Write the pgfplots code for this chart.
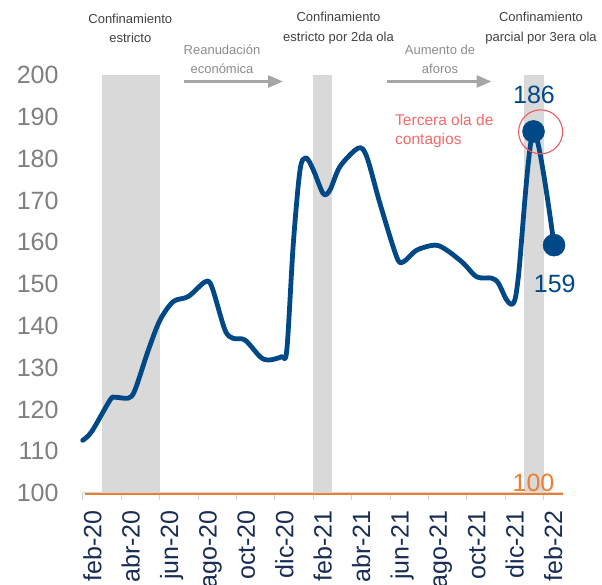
\documentclass[border=0pt]{standalone}
\usepackage{fontspec}
\setmainfont{Liberation Sans}
\usepackage{pgfplots}
\pgfplotsset{compat=1.18}
\usetikzlibrary{arrows.meta}
\definecolor{mainblue}{RGB}{0,72,134}
\definecolor{navy}{RGB}{24,44,84}
\definecolor{bandgray}{RGB}{217,217,217}
\definecolor{axgray}{RGB}{210,210,210}
\definecolor{ticktext}{RGB}{127,127,127}
\definecolor{darktext}{RGB}{64,64,64}
\definecolor{lighttext}{RGB}{140,140,140}
\definecolor{arrowgray}{RGB}{166,166,166}
\definecolor{orangeline}{RGB}{237,125,49}
\definecolor{redtext}{RGB}{242,107,107}
\definecolor{redcirc}{RGB}{238,90,90}
\begin{document}
\begin{tikzpicture}
\path[use as bounding box] (-82.7pt,-92pt) rectangle (519.3pt,493pt);
\begin{axis}[
  at={(0pt,0pt)}, anchor=south west,
  scale only axis, width=480pt, height=418pt,
  xmin=0, xmax=25, ymin=100, ymax=200,
  clip=false,
  axis x line*=bottom, axis y line*=left,
  y axis line style={draw=none},
  x axis line style={draw=axgray, line width=1pt},
  /pgf/number format/assume math mode=true,
  major tick length=0pt,
  ytick={100,110,...,200},
  yticklabel style={anchor=east, inner sep=0pt, text=ticktext, font=\fontsize{25}{30}\selectfont},
  yticklabel shift=24pt,
  xtick={0.5,2.5,...,24.5},
  xticklabels={feb-20,abr-20,jun-20,ago-20,oct-20,dic-20,feb-21,abr-21,jun-21,ago-21,oct-21,dic-21,feb-22},
  xticklabel style={rotate=90, anchor=east, inner sep=0pt, text height=18pt, text depth=0pt, text=navy, font=\fontsize{25}{30}\selectfont},
  xticklabel shift=17pt,
  extra x ticks={0,2,...,24},
  extra x tick labels={},
  extra x tick style={major tick length=7pt, tick align=outside, tick style={draw=axgray, line width=0.8pt}},
]
\addplot[fill=bandgray, draw=none] coordinates {(1,100) (1,200) (4,200) (4,100)} -- cycle;
\addplot[fill=bandgray, draw=none] coordinates {(12,100) (12,200) (13,200) (13,100)} -- cycle;
\addplot[fill=bandgray, draw=none] coordinates {(23,100) (23,200) (24,200) (24,100)} -- cycle;
\addplot[orangeline, line width=2pt] coordinates {(0.1,99.8) (25,99.8)};
\addplot[mainblue, line width=4.8pt, smooth, line join=round, line cap=round] coordinates {
(0,112.6) (0.47,114.7) (1.42,122.2) (1.68,122.9) (2.375,122.7) (2.72,124.6)
(3.42,134.2) (4.03,141.4) (4.72,145.8) (5.5,147.0) (6.37,150.5) (6.72,149.4)
(7.41,139.0) (7.84,137.0) (8.45,136.6) (9.24,132.6) (9.67,131.8) (10.36,132.6)
(10.63,134.2) (10.97,159.7) (11.32,177.3) (11.63,180.2) (12.01,177.3) (12.53,171.6)
(12.88,172.5) (13.4,178.1) (14.35,182.5) (14.79,180.5) (15.48,169.3) (16.35,156.5)
(16.7,155.3) (17.4,158.1) (18.35,159.3) (18.96,158.1) (19.82,155.0) (20.52,151.7)
(21.3,151.4) (21.65,150.2) (22.08,146.2) (22.43,145.4) (22.69,151.7) (23.48,186.5)
(24.55,159.3)};
\addplot[only marks, mark=*, mark size=11pt, mark options={fill=mainblue, draw=mainblue, line width=0.5pt}] coordinates {(23.48,186.5) (24.55,159.3)};
\addplot[only marks, mark=o, mark size=22pt, mark options={draw=redcirc, line width=1.1pt}] coordinates {(23.85,186.4)};
\end{axis}
% annotations
\node[align=center, text=darktext, font=\fontsize{13}{19.3}\selectfont] at (47.6pt,464.8pt) {Confinamiento\\estricto};
\node[align=center, text=lighttext, font=\fontsize{13}{18.5}\selectfont] at (139.3pt,433.7pt) {Reanudación\\económica};
\draw[arrowgray, line width=2.8pt, -{Triangle[length=15pt,width=12pt]}] (101.3pt,411.5pt) -- (200.3pt,411.5pt);
\node[align=center, text=darktext, font=\fontsize{13}{19.3}\selectfont] at (255.8pt,464.8pt) {Confinamiento\\estricto por 2da ola};
\node[align=center, text=lighttext, font=\fontsize{13}{18.5}\selectfont] at (357.3pt,433.7pt) {Aumento de\\aforos};
\draw[arrowgray, line width=2.8pt, -{Triangle[length=15pt,width=12pt]}] (303.8pt,411.5pt) -- (408.8pt,411.5pt);
\node[align=center, text=darktext, font=\fontsize{13}{19.3}\selectfont] at (458.3pt,464.8pt) {Confinamiento\\parcial por 3era ola};
\node[anchor=west, align=left, inner sep=0pt, text=redtext, font=\fontsize{15.5}{18.3}\selectfont] at (312.3pt,362.1pt) {Tercera ola de\\contagios};
\node[text=mainblue, inner sep=0pt, font=\fontsize{25}{30}\selectfont] at (451.3pt,398.3pt) {186};
\node[text=mainblue, inner sep=0pt, font=\fontsize{25}{30}\selectfont] at (472pt,209pt) {159};
\node[text=orangeline, inner sep=0pt, font=\fontsize{25}{30}\selectfont] at (450.8pt,10.5pt) {100};
\end{tikzpicture}
\end{document}
